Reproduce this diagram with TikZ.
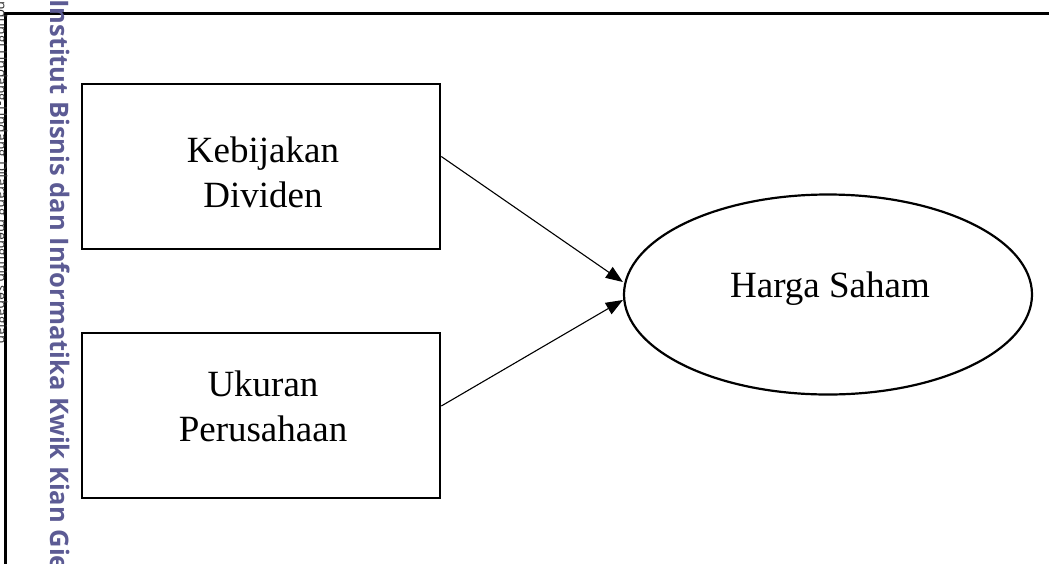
\documentclass[tikz,border=0pt]{standalone}
\usepackage{fontspec}
\setmainfont{Liberation Serif}
\newfontfamily\wmfont{Open Sans}
\usetikzlibrary{arrows.meta,shapes.geometric}
\definecolor{wmblue}{HTML}{5C5B94}
\definecolor{edgegray}{HTML}{333333}
\tikzset{
  frameline/.style={line width=3pt},
  boxnode/.style={draw, line width=2.6pt, rectangle, minimum width=358pt, minimum height=165pt, inner sep=0pt},
  ellnode/.style={draw, line width=2.2pt, ellipse, minimum width=408pt, minimum height=200pt, inner sep=0pt},
  lbl/.style={font=\fontsize{37}{45}\selectfont, align=center, inner sep=0pt},
  link/.style={line width=1.1pt, -{Triangle[length=17pt,width=13pt]}},
  wmark/.style={text=wmblue, font=\wmfont\bfseries\fontsize{25.5}{30}\selectfont, rotate=-90, anchor=base west, inner sep=0pt},
  edgetext/.style={text=edgegray, font=\wmfont\fontsize{14}{17}\selectfont, rotate=-90, anchor=base west, inner sep=0pt}
}
\begin{document}
\begin{tikzpicture}[x=1pt,y=-1pt]
\useasboundingbox (0,0) rectangle (1049,563);
\clip (0,0) rectangle (1049,563);
% frame
\coordinate (ftl) at (5,13);
\coordinate (ftr) at (1052,13);
\coordinate (fbl) at (5,566);
\draw[frameline] (ftr) -- (ftl) -- (fbl);
% edge text (cut off)
\node[edgetext] (et) at (-3,-20) {Dilindungi Undang-Undang Dilarang mengutip sebagian};
% watermark
\node[wmark] (wm) at (50,-1) {Institut Bisnis dan Informatika Kwik Kian Gie};
% boxes
\node[boxnode] (kd) at (261,166.5) {};
\node[boxnode] (up) at (261,415.5) {};
\node[ellnode] (hs) at (828,294.5) {};
% labels (base = baseline of last line)
\node[lbl, anchor=base] (kdt) at (263,207) {Kebijakan\\Dividen};
\node[lbl, anchor=base] (upt) at (263,441) {Ukuran\\Perusahaan};
\node[lbl, anchor=base] (hst) at (830,297) {Harga Saham};
% connectors
\draw[link] ([yshift=10pt]kd.east) -- ([yshift=12.5pt]hs.west);
\draw[link] ([yshift=9.5pt]up.east) -- ([yshift=-5.5pt]hs.west);
\end{tikzpicture}
\end{document}
